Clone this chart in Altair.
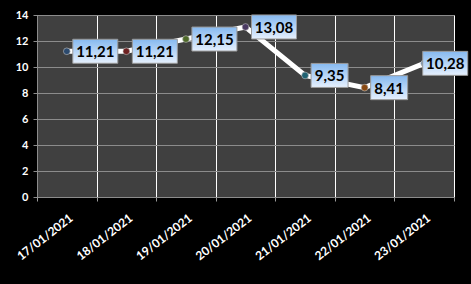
import altair as alt
import pandas as pd

dates = ["17/01/2021", "18/01/2021", "19/01/2021", "20/01/2021",
         "21/01/2021", "22/01/2021", "23/01/2021"]
values = [11.21, 11.21, 12.15, 13.08, 9.35, 8.41, 10.28]
marker_colors = ["#2c4a6e", "#6e2222", "#4f6a2a", "#4a3a62", "#1f6272", "#8a4a12", "#6d8cab"]

df = pd.DataFrame({"date": dates, "value": values, "idx": list(range(len(dates)))})

x = alt.X("date:N", sort=dates, title=None,
          scale=alt.Scale(paddingInner=0, paddingOuter=0),
          axis=alt.Axis(labelAngle=-38, labelColor="white", labelFont="Lato",
                        labelFontSize=12, labelFontWeight="bold", labelPadding=11,
                        tickBand="extent", grid=True, gridColor="#ffffff", gridWidth=1,
                        tickColor="#9a9a9a", tickSize=4, domain=False, labelOffset=1))
y = alt.Y("value:Q", title=None,
          scale=alt.Scale(domain=[0, 14]),
          axis=alt.Axis(values=[0, 2, 4, 6, 8, 10, 12, 14], labelColor="white",
                        labelFont="Lato", labelFontSize=11, labelFontWeight="bold",
                        gridColor="#8c8c8c", gridWidth=1, tickColor="#8c8c8c",
                        tickSize=4, labelPadding=5, domainColor="#8c8c8c"))

base = alt.Chart(df).encode(x=x, y=y)

line = base.mark_line(color="white", strokeWidth=5)

pts = base.mark_point(filled=True, size=45, opacity=1, stroke="#bdbdbd", strokeWidth=0.6).encode(
    color=alt.Color("date:N", sort=dates, legend=None,
                    scale=alt.Scale(domain=dates, range=marker_colors))
)

lab = base.transform_calculate(
    label="replace(format(datum.value, '.2f'), '.', ',')"
).transform_calculate(
    boxw="8 * length(datum.label) + 5"
).transform_calculate(
    off="datum.idx == 6 ? 21 : datum.boxw / 2 + 6",
    area="datum.boxw * datum.boxw"
).transform_calculate(
    hy="24 / datum.boxw",
    xl="datum.off / (datum.boxw / 2) - 1",
    xr="datum.off / (datum.boxw / 2) + 1"
).transform_calculate(
    shp="'M' + datum.xl + ',-' + datum.hy + 'L' + datum.xr + ',-' + datum.hy + 'L' + datum.xr + ',' + datum.hy + 'L' + datum.xl + ',' + datum.hy + 'Z'"
)

grad = alt.Gradient(gradient="linear", x1=0, y1=0, x2=0, y2=1,
                    stops=[alt.GradientStop(color="#86b9f0", offset=0),
                           alt.GradientStop(color="#e6f0fd", offset=1)])

boxes = lab.mark_point(filled=True, fill=grad, stroke="#9a9a9a", strokeWidth=1,
                       opacity=1, fillOpacity=1).encode(
    shape=alt.Shape("shp:N", scale=None),
    size=alt.Size("area:Q", scale=None),
)

texts = lab.mark_text(font="Lato", fontSize=15, fontWeight="bold", color="black",
                      align="center", baseline="middle",
                      dx=alt.ExprRef("datum.off"), dy=1).encode(
    text="label:N",
)

chart = alt.layer(line, pts, boxes, texts).properties(
    width=417, height=182,
    background="black",
    padding={"left": 37, "top": 15, "right": 17, "bottom": 87},
    autosize=alt.AutoSizeParams(type="none"),
).configure_view(fill="#404040", stroke="#8c8c8c", strokeWidth=1)

chart.save("out.html", embed_options={"renderer": "svg", "actions": False})
